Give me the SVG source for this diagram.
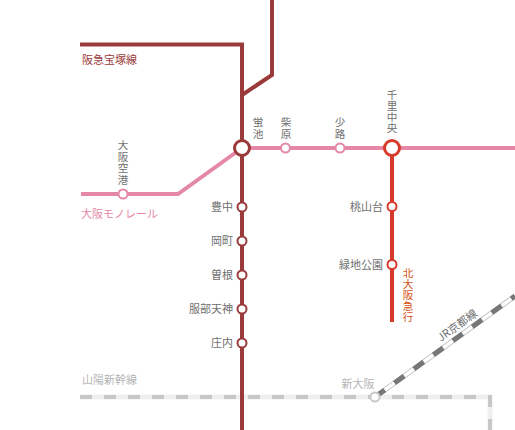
<svg xmlns="http://www.w3.org/2000/svg" width="515" height="430" viewBox="0 0 515 430">
<style>
text{font-family:"Noto Sans CJK JP","Noto Sans CJK SC","Liberation Sans",sans-serif;font-size:11px;fill:#6e6e6e}
.e{text-anchor:end}.m{text-anchor:middle}
.v{font-size:10.600px}
.l{fill:none}
.hk{stroke:#9b3a3a;stroke-width:4}
.mono{stroke:#e588a8;stroke-width:4}
.kita{stroke:#d63a2c;stroke-width:4}
.st{fill:#fff;stroke-width:2}
.big{fill:#fff;stroke-width:3}
.o{fill:#d4500f}
</style>
<g id="connectors">
<path class="l" d="M80 397H490V430" stroke="#efefef" stroke-width="5"/>
<path class="l" d="M80 397H490V430" stroke="#c8c8c8" stroke-width="4" stroke-dasharray="12 12"/>
<path class="l" d="M375 397L515 296" stroke="#b5b5b5" stroke-width="5"/>
<path class="l" d="M375 397L515 296" stroke="#fff" stroke-width="3.4"/>
<path class="l" d="M375 397L515 296" stroke="#777" stroke-width="5" stroke-dasharray="12 12"/>
<path class="l mono" d="M81 194H178L242 148"/>
<path class="l mono" d="M242 148H515"/>
<path class="l hk" d="M80 44.500H242V430"/>
<path class="l hk" d="M272 0V75L242 95"/>
<path class="l kita" d="M392 148V322"/>
</g>
<g id="hotarugaike"><circle class="big" cx="242" cy="148" r="7.500" stroke="#9b3a3a"/><text class="m v"><tspan x="258" y="126">蛍</tspan><tspan x="258" y="138">池</tspan></text></g>
<g id="shibahara"><circle class="st" cx="285.500" cy="148" r="4.500" stroke="#e588a8"/><text class="m v"><tspan x="286" y="126">柴</tspan><tspan x="286" y="138">原</tspan></text></g>
<g id="shoji"><circle class="st" cx="340" cy="148" r="4.500" stroke="#e588a8"/><text class="m v"><tspan x="340" y="126">少</tspan><tspan x="340" y="138">路</tspan></text></g>
<g id="senri-chuo"><circle class="big" cx="392" cy="148" r="7.500" stroke="#d63a2c"/><text class="m v"><tspan x="392" y="99">千</tspan><tspan x="392" y="110">里</tspan><tspan x="392" y="121">中</tspan><tspan x="392" y="132">央</tspan></text></g>
<g id="osaka-airport"><circle class="st" cx="123" cy="194" r="4.500" stroke="#e588a8"/><text class="m v"><tspan x="123" y="149">大</tspan><tspan x="123" y="161">阪</tspan><tspan x="123" y="172">空</tspan><tspan x="123" y="184">港</tspan></text></g>
<g id="toyonaka"><circle class="st" cx="242" cy="207" r="4.500" stroke="#9b3a3a"/><text class="e" x="233" y="211">豊中</text></g>
<g id="okamachi"><circle class="st" cx="242" cy="241" r="4.500" stroke="#9b3a3a"/><text class="e" x="233" y="245">岡町</text></g>
<g id="sone"><circle class="st" cx="242" cy="275" r="4.500" stroke="#9b3a3a"/><text class="e" x="233" y="279">曽根</text></g>
<g id="hattori"><circle class="st" cx="242" cy="309" r="4.500" stroke="#9b3a3a"/><text class="e" x="233" y="313">服部天神</text></g>
<g id="shonai"><circle class="st" cx="242" cy="343" r="4.500" stroke="#9b3a3a"/><text class="e" x="233" y="347">庄内</text></g>
<g id="momoyamadai"><circle class="st" cx="392" cy="206.500" r="4.500" stroke="#d63a2c"/><text class="e" x="383" y="211">桃山台</text></g>
<g id="ryokuchi"><circle class="st" cx="392" cy="264.500" r="4.500" stroke="#d63a2c"/><text class="e" x="383" y="269">緑地公園</text></g>
<g id="shin-osaka"><circle class="st" cx="375" cy="397" r="4.500" stroke="#c8c8c8"/><text class="m" x="358" y="388" style="fill:#b5b5b5">新大阪</text></g>
<g id="labels">
<text x="82" y="64" style="fill:#9b3a3a">阪急宝塚線</text>
<text x="81" y="218" style="fill:#e588a8">大阪モノレール</text>
<text x="82" y="384" style="fill:#b5b5b5">山陽新幹線</text>
<text transform="translate(441 342) rotate(-36)">JR京都線</text>
<text class="m o v"><tspan x="408" y="277">北</tspan><tspan x="408" y="288">大</tspan><tspan x="408" y="299">阪</tspan><tspan x="408" y="310">急</tspan><tspan x="408" y="321">行</tspan></text>
</g>
</svg>
